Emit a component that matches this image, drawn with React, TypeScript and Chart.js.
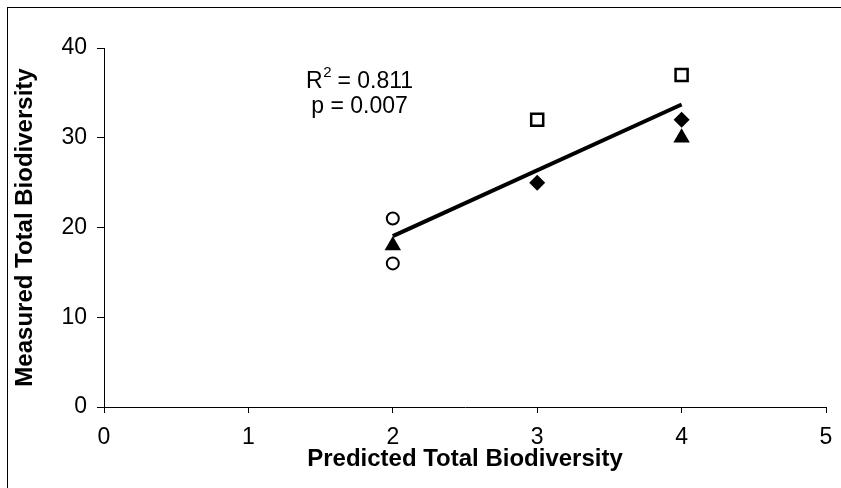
import React, { useEffect, useRef } from "react";
import { Chart, registerables } from "chart.js";

Chart.register(...registerables);

// ---- data ----
const X_TITLE = "Predicted Total Biodiversity";
const Y_TITLE = "Measured Total Biodiversity";
const X_TICKS = [0, 1, 2, 3, 4, 5];
const Y_TICKS = [0, 10, 20, 30, 40];

const circleX = [2, 2];
const circleY = [21, 16];
const triangleX = [2, 4];
const triangleY = [18, 30];
const squareX = [3, 4];
const squareY = [32, 37];
const diamondX = [3, 4];
const diamondY = [25, 32];

const TREND_X = [2, 4];
const ANNOT_X = 1.77;
const ANNOT_Y = [36.3, 33.5];
const ANNOT_R = ["R", "2", " = 0.811"];
const ANNOT_P = "p = 0.007";

const FONT = '"Liberation Sans", Arial, Helvetica, sans-serif';

function pts(xs: number[], ys: number[]) {
  return xs.map((x, i) => ({ x, y: ys[i] }));
}

function regression() {
  const xs = [...circleX, ...triangleX, ...squareX, ...diamondX];
  const ys = [...circleY, ...triangleY, ...squareY, ...diamondY];
  const n = xs.length;
  const mx = xs.reduce((a, b) => a + b, 0) / n;
  const my = ys.reduce((a, b) => a + b, 0) / n;
  let sxy = 0, sxx = 0;
  for (let i = 0; i < n; i++) {
    sxy += (xs[i] - mx) * (ys[i] - my);
    sxx += (xs[i] - mx) * (xs[i] - mx);
  }
  const b = sxy / sxx;
  const a = my - b * mx;
  return TREND_X.map((x) => ({ x, y: a + b * x }));
}

const annotPlugin = {
  id: "annot",
  afterDatasetsDraw(chart: any) {
    const { ctx, scales } = chart;
    const cx = scales.x.getPixelForValue(ANNOT_X);
    const y1 = scales.y.getPixelForValue(ANNOT_Y[0]);
    const y2 = scales.y.getPixelForValue(ANNOT_Y[1]);
    const big = `23px ${FONT}`;
    const small = `15px ${FONT}`;
    ctx.save();
    ctx.fillStyle = "#000";
    ctx.textBaseline = "middle";
    ctx.font = big;
    const wR = ctx.measureText(ANNOT_R[0]).width;
    const wRest = ctx.measureText(ANNOT_R[2]).width;
    ctx.font = small;
    const w2 = ctx.measureText(ANNOT_R[1]).width;
    const sx = cx - (wR + w2 + wRest) / 2;
    ctx.textAlign = "left";
    ctx.font = big;
    ctx.fillText(ANNOT_R[0], sx, y1);
    ctx.font = small;
    ctx.fillText(ANNOT_R[1], sx + wR + 0.5, y1 - 8);
    ctx.font = big;
    ctx.fillText(ANNOT_R[2], sx + wR + w2, y1);
    ctx.textAlign = "center";
    ctx.fillText(ANNOT_P, cx, y2);
    ctx.restore();
  },
};

export default function App() {
  const ref = useRef<HTMLCanvasElement | null>(null);

  useEffect(() => {
    if (!ref.current) return;
    Chart.defaults.font.family = FONT;
    const chart = new Chart(ref.current, {
      type: "scatter",
      data: {
        datasets: [
          {
            label: "trend",
            data: regression(),
            showLine: true,
            borderColor: "#000",
            borderWidth: 4,
            pointRadius: 0,
            fill: false,
          } as any,
          {
            label: "circle",
            data: pts(circleX, circleY),
            pointStyle: "circle",
            pointRadius: 6,
            borderWidth: 2,
            borderColor: "#000",
            backgroundColor: "#fff",
          },
          {
            label: "triangle",
            data: pts(triangleX, triangleY),
            pointStyle: "triangle",
            pointRadius: 9.5,
            borderWidth: 0,
            borderColor: "#000",
            backgroundColor: "#000",
          },
          {
            label: "square",
            data: pts(squareX, squareY),
            pointStyle: "rect",
            pointRadius: 8.5,
            borderWidth: 2.5,
            borderColor: "#000",
            backgroundColor: "#fff",
          },
          {
            label: "diamond",
            data: pts(diamondX, diamondY),
            pointStyle: "rectRot",
            pointRadius: 8,
            borderWidth: 0,
            borderColor: "#000",
            backgroundColor: "#000",
          },
        ],
      },
      options: {
        animation: false,
        responsive: false,
        maintainAspectRatio: false,
        layout: { padding: { top: 48, right: 15, left: 0, bottom: 0 } },
        plugins: { legend: { display: false }, tooltip: { enabled: false } },
        scales: {
          x: {
            type: "linear",
            min: X_TICKS[0],
            max: X_TICKS[X_TICKS.length - 1],
            afterBuildTicks: (s: any) => {
              s.ticks = X_TICKS.map((v) => ({ value: v }));
            },
            afterFit: (s: any) => {
              s.height = 81;
              s.paddingRight = 0;
              s.paddingLeft = 0;
            },
            ticks: { color: "#000", font: { size: 23 }, padding: 11, maxRotation: 0 },
            grid: { drawOnChartArea: false, drawTicks: true, tickLength: 6, color: "#000", lineWidth: 1 },
            border: { display: true, color: "#000", width: 1 },
            title: {
              display: true,
              text: X_TITLE,
              color: "#000",
              font: { size: 24, weight: "bold" },
              padding: { top: 0, bottom: 14 },
            },
          },
          y: {
            type: "linear",
            min: Y_TICKS[0],
            max: Y_TICKS[Y_TICKS.length - 1],
            afterBuildTicks: (s: any) => {
              s.ticks = Y_TICKS.map((v) => ({ value: v }));
            },
            afterFit: (s: any) => {
              s.width = 104;
            },
            ticks: { color: "#000", font: { size: 23 }, padding: 10 },
            grid: { drawOnChartArea: false, drawTicks: true, tickLength: 7, color: "#000", lineWidth: 1 },
            border: { display: true, color: "#000", width: 1 },
            title: {
              display: true,
              text: Y_TITLE,
              color: "#000",
              font: { size: 24, weight: "bold" },
              padding: { top: 11, bottom: 0 },
            },
          },
        },
      } as any,
      plugins: [annotPlugin],
    });
    return () => chart.destroy();
  }, []);

  return (
    <div style={{ position: "fixed", left: 0, top: 0, width: 841, height: 488, background: "#fff", overflow: "hidden" }}>
      <div
        style={{
          position: "absolute",
          left: 7,
          top: 7,
          width: 1000,
          height: 1000,
          borderLeft: "1px solid #000",
          borderTop: "1px solid #000",
        }}
      />
      <canvas ref={ref} width={841} height={488} style={{ position: "absolute", left: 0, top: 0, width: 841, height: 488 }} />
    </div>
  );
}
